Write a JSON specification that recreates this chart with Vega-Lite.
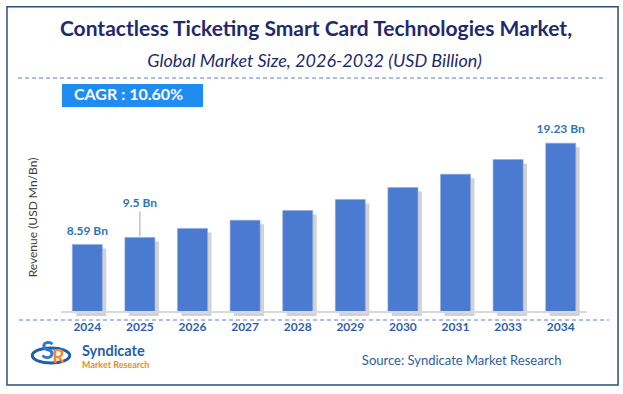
{
  "$schema": "https://vega.github.io/schema/vega-lite/v6.json",
  "width": 526,
  "height": 190,
  "autosize": {"type": "none"},
  "padding": {"left": 61, "top": 122, "right": 36, "bottom": 82},
  "background": "white",
  "config": {"view": {"stroke": null}, "font": "Lato"},
  "datasets": {
    "market": [
      {"year": "2024", "value": 8.59, "label": "8.59 Bn"},
      {"year": "2025", "value": 9.5, "label": "9.5 Bn"},
      {"year": "2026", "value": 10.63, "label": ""},
      {"year": "2027", "value": 11.69, "label": ""},
      {"year": "2028", "value": 12.92, "label": ""},
      {"year": "2029", "value": 14.33, "label": ""},
      {"year": "2030", "value": 15.86, "label": ""},
      {"year": "2031", "value": 17.55, "label": ""},
      {"year": "2033", "value": 19.42, "label": ""},
      {"year": "2034", "value": 21.5, "label": "19.23 Bn"}
    ],
    "one": [{}]
  },
  "resolve": {"scale": {"x": "independent"}},
  "layer": [
    {
      "data": {"name": "one"},
      "layer": [
        {
          "mark": {"type": "rect", "fill": null, "stroke": "#2b4d7e", "strokeWidth": 1.5},
          "encoding": {
            "x": {"datum": -10.27, "type": "quantitative", "scale": {"domain": [0, 100], "nice": false, "zero": false}, "axis": null},
            "x2": {"datum": 105.9},
            "y": {"datum": 38.89, "type": "quantitative", "scale": {"domain": [0, 24.2], "nice": false, "zero": false}},
            "y2": {"datum": -9.3}
          }
        },
        {
          "mark": {"type": "text", "align": "center", "baseline": "middle", "font": "Lato", "fontSize": 21, "fontWeight": "bold", "color": "#1f2a6e"},
          "encoding": {
            "x": {"datum": 48.48, "type": "quantitative", "scale": {"domain": [0, 100], "nice": false, "zero": false}, "axis": null},
            "y": {"datum": 35.92, "type": "quantitative", "scale": {"domain": [0, 24.2], "nice": false, "zero": false}},
            "text": {"value": "Contactless Ticketing Smart Card Technologies Market,"}
          }
        },
        {
          "mark": {"type": "text", "align": "center", "baseline": "middle", "font": "Lato", "fontSize": 18, "fontStyle": "italic", "color": "#1f2a6e"},
          "encoding": {
            "x": {"datum": 48.2, "type": "quantitative", "scale": {"domain": [0, 100], "nice": false, "zero": false}, "axis": null},
            "y": {"datum": 31.9, "type": "quantitative", "scale": {"domain": [0, 24.2], "nice": false, "zero": false}},
            "text": {"value": "Global Market Size, 2026-2032 (USD Billion)"}
          }
        },
        {
          "mark": {"type": "rule", "stroke": "#5a7fc6", "strokeWidth": 1, "strokeDash": [4, 3]},
          "encoding": {
            "x": {"datum": -8.17, "type": "quantitative", "scale": {"domain": [0, 100], "nice": false, "zero": false}, "axis": null},
            "x2": {"datum": 103.6},
            "y": {"datum": 29.8, "type": "quantitative", "scale": {"domain": [0, 24.2], "nice": false, "zero": false}}
          }
        },
        {
          "mark": {"type": "rule", "stroke": "#5a7fc6", "strokeWidth": 1, "strokeDash": [4, 3]},
          "encoding": {
            "x": {"datum": -7.98, "type": "quantitative", "scale": {"domain": [0, 100], "nice": false, "zero": false}, "axis": null},
            "x2": {"datum": 104.2},
            "y": {"datum": -1.02, "type": "quantitative", "scale": {"domain": [0, 24.2], "nice": false, "zero": false}}
          }
        },
        {
          "mark": {"type": "rect", "fill": "#1e8cf0"},
          "encoding": {
            "x": {"datum": 0.19, "type": "quantitative", "scale": {"domain": [0, 100], "nice": false, "zero": false}, "axis": null},
            "x2": {"datum": 27.0},
            "y": {"datum": 29.04, "type": "quantitative", "scale": {"domain": [0, 24.2], "nice": false, "zero": false}},
            "y2": {"datum": 26.11}
          }
        },
        {
          "mark": {"type": "text", "align": "left", "baseline": "middle", "font": "Lato", "fontSize": 16, "fontWeight": "bold", "color": "white"},
          "encoding": {
            "x": {"datum": 2.47, "type": "quantitative", "scale": {"domain": [0, 100], "nice": false, "zero": false}, "axis": null},
            "y": {"datum": 27.58, "type": "quantitative", "scale": {"domain": [0, 24.2], "nice": false, "zero": false}},
            "text": {"value": "CAGR :  10.60%"}
          }
        },
        {
          "mark": {"type": "text", "align": "left", "baseline": "middle", "font": "Lato", "fontSize": 13, "color": "#2f5d9e"},
          "encoding": {
            "x": {"datum": 57.2, "type": "quantitative", "scale": {"domain": [0, 100], "nice": false, "zero": false}, "axis": null},
            "y": {"datum": -6.24, "type": "quantitative", "scale": {"domain": [0, 24.2], "nice": false, "zero": false}},
            "text": {"value": "Source: Syndicate Market Research"}
          }
        },
        {
          "mark": {"type": "point", "shape": "M-1,0A1,0.4 0 1,0 1,0A1,0.4 0 1,0 -1,0Z", "filled": false, "stroke": "#1f5fa8", "strokeWidth": 3, "size": 1400, "opacity": 1},
          "encoding": {
            "x": {"datum": -1.9, "type": "quantitative", "scale": {"domain": [0, 100], "nice": false, "zero": false}, "axis": null},
            "y": {"datum": -5.54, "type": "quantitative", "scale": {"domain": [0, 24.2], "nice": false, "zero": false}}
          }
        },
        {
          "mark": {"type": "text", "align": "center", "baseline": "middle", "font": "Lato", "fontSize": 24, "fontWeight": "bold", "color": "#2a7bd6"},
          "encoding": {
            "x": {"datum": -2.57, "type": "quantitative", "scale": {"domain": [0, 100], "nice": false, "zero": false}, "axis": null},
            "y": {"datum": -5.09, "type": "quantitative", "scale": {"domain": [0, 24.2], "nice": false, "zero": false}},
            "text": {"value": "S"}
          }
        },
        {
          "mark": {"type": "text", "align": "center", "baseline": "middle", "font": "Lato", "fontSize": 19, "fontWeight": "bold", "color": "#f08a24"},
          "encoding": {
            "x": {"datum": -0.48, "type": "quantitative", "scale": {"domain": [0, 100], "nice": false, "zero": false}, "axis": null},
            "y": {"datum": -5.73, "type": "quantitative", "scale": {"domain": [0, 24.2], "nice": false, "zero": false}},
            "text": {"value": "R"}
          }
        },
        {
          "mark": {"type": "text", "align": "left", "baseline": "middle", "font": "Lato", "fontSize": 14.5, "fontWeight": "bold", "color": "#1f5fa8"},
          "encoding": {
            "x": {"datum": 3.99, "type": "quantitative", "scale": {"domain": [0, 100], "nice": false, "zero": false}, "axis": null},
            "y": {"datum": -5.05, "type": "quantitative", "scale": {"domain": [0, 24.2], "nice": false, "zero": false}},
            "text": {"value": "Syndicate"}
          }
        },
        {
          "mark": {"type": "text", "align": "left", "baseline": "middle", "font": "Lato", "fontSize": 9, "fontWeight": "bold", "color": "#f08a24"},
          "encoding": {
            "x": {"datum": 3.99, "type": "quantitative", "scale": {"domain": [0, 100], "nice": false, "zero": false}, "axis": null},
            "y": {"datum": -6.7, "type": "quantitative", "scale": {"domain": [0, 24.2], "nice": false, "zero": false}},
            "text": {"value": "Market Research"}
          }
        }
      ]
    },
    {
      "data": {"name": "market"},
      "encoding": {
        "x": {
          "field": "year",
          "type": "ordinal",
          "sort": null,
          "scale": {"paddingInner": 0.43, "paddingOuter": 0.215},
          "axis": {
            "title": null,
            "domain": false,
            "ticks": false,
            "tickSize": 0,
            "labelPadding": 9,
            "labelAngle": 0,
            "labelFont": "Lato",
            "labelFontSize": 12,
            "labelFontWeight": "bold",
            "labelColor": "#2f5ea8"
          }
        },
        "y": {
          "field": "value",
          "type": "quantitative",
          "scale": {"domain": [0, 24.2], "nice": false, "zero": false},
          "axis": {
            "title": "Revenue (USD Mn/Bn)",
            "labels": false,
            "ticks": false,
            "tickSize": 0,
            "domain": false,
            "grid": false,
            "titleFont": "Lato",
            "titleFontSize": 12,
            "titleFontWeight": "normal",
            "titleColor": "#404040",
            "titlePadding": 22
          }
        }
      },
      "layer": [
        {
          "mark": {"type": "bar", "color": "#9b9b9b", "opacity": 0.45, "xOffset": 4, "yOffset": 4}
        },
        {
          "mark": {"type": "bar", "color": "#4b7bd1", "stroke": "#8aaae3", "strokeWidth": 0.6}
        },
        {
          "mark": {"type": "rule", "color": "#d9d9d9", "strokeWidth": 1.5},
          "encoding": {"y": {"datum": 0, "type": "quantitative", "scale": {"domain": [0, 24.2], "nice": false, "zero": false}}, "x": null}
        },
        {
          "transform": [{"filter": "datum.label != '' && datum.year != '2025'"}],
          "mark": {"type": "text", "dy": -14, "baseline": "middle", "font": "Lato", "fontSize": 12, "fontWeight": "bold", "color": "#2e75b6"},
          "encoding": {"text": {"field": "label"}}
        },
        {
          "transform": [{"filter": "datum.year == '2025'"}],
          "mark": {"type": "text", "dy": -34, "baseline": "middle", "font": "Lato", "fontSize": 12, "fontWeight": "bold", "color": "#2e75b6"},
          "encoding": {"text": {"field": "label"}}
        },
        {
          "transform": [{"filter": "datum.year == '2025'"}],
          "mark": {"type": "rule", "color": "#a6a6a6", "strokeWidth": 1, "yOffset": -26, "y2Offset": -1},
          "encoding": {"y2": {"field": "value"}}
        }
      ]
    }
  ]
}
